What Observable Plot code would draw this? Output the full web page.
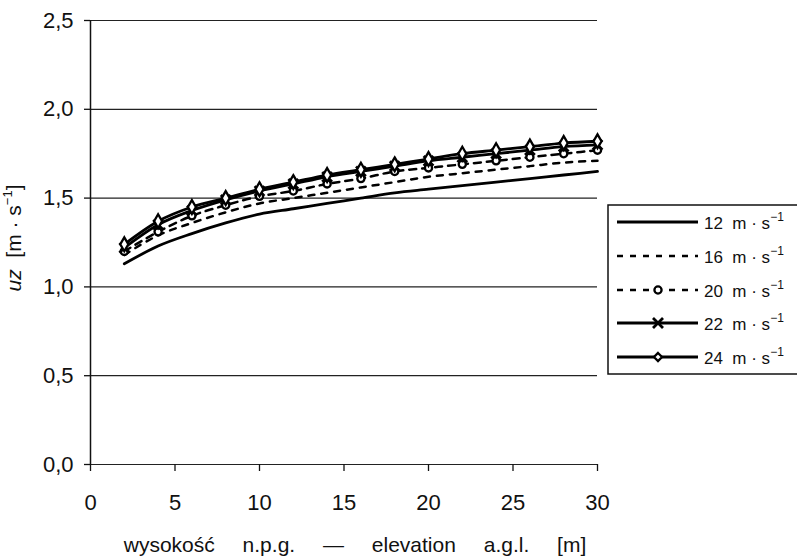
<!DOCTYPE html>
<html><head><meta charset="utf-8">
<script src="https://cdn.jsdelivr.net/npm/d3@7"></script>
<script src="https://cdn.jsdelivr.net/npm/@observablehq/plot@0.6"></script>
<style>
body{margin:0;background:#fff;}
#chart{position:relative;width:797px;height:558px;}
</style>
</head><body><div id="chart"></div>
<script>
const heights = [2,4,6,8,10,12,14,16,18,20,22,24,26,28,30];
const s12 = [1.13,1.23,1.30,1.36,1.41,1.44,1.47,1.50,1.53,1.55,1.57,1.59,1.61,1.63,1.65];
const s16 = [1.18,1.29,1.36,1.42,1.47,1.50,1.53,1.56,1.59,1.62,1.64,1.66,1.68,1.70,1.71];
const s20 = [1.20,1.31,1.40,1.46,1.51,1.54,1.58,1.61,1.65,1.67,1.69,1.71,1.73,1.75,1.77];
const s22 = [1.22,1.35,1.43,1.49,1.54,1.58,1.62,1.65,1.68,1.71,1.73,1.75,1.77,1.79,1.80];
const s24 = [1.24,1.37,1.45,1.50,1.55,1.59,1.63,1.66,1.69,1.72,1.75,1.77,1.79,1.81,1.82];
const seriesNames = ["12","16","20","22","24"];
const xTicks = [0,5,10,15,20,25,30];
const yTicks = [0,0.5,1,1.5,2,2.5];

const styles = {
  "12": {dash:null, width:2.8, symbol:null},
  "16": {dash:"6,7", width:2.5, symbol:null},
  "20": {dash:"7,6", width:2.5, symbol:"circle"},
  "22": {dash:null, width:2.8, symbol:"times"},
  "24": {dash:null, width:2.8, symbol:"diamond"}
};
const allSeries = {"12":s12,"16":s16,"20":s20,"22":s22,"24":s24};
const rows = s => heights.map((h,i)=>({h, v: allSeries[s][i], s}));

const marks = [
  Plot.ruleY(yTicks, {x1:0, x2:30, stroke:"#222", strokeWidth:1.2}),
  Plot.ruleX([0], {y1:0, y2:2.5, stroke:"#111", strokeWidth:1.5}),
  Plot.axisY(yTicks, {tickSize:6, tickPadding:11, tickFormat: d=>d.toFixed(1).replace(".",","), label:null, stroke:"#111", strokeWidth:1.3}),
  Plot.axisX(xTicks, {tickSize:7, tickPadding:23, label:null, stroke:"#111", strokeWidth:1.3})
];
for (const s of seriesNames) {
  const st = styles[s];
  marks.push(Plot.line(rows(s), {x:"h", y:"v", stroke:"#000", strokeWidth:st.width, strokeDasharray:st.dash, curve:"monotone-x"}));
}
for (const s of seriesNames) {
  const st = styles[s];
  if (!st.symbol) continue;
  if (st.symbol === "times") marks.push(Plot.dot(rows(s), {x:"h", y:"v", symbol:"times", r:4.5, stroke:"#000", strokeWidth:2.8}));
  else marks.push(Plot.dot(rows(s), {x:"h", y:"v", symbol:st.symbol, r:st.symbol==="circle"?3.6:4.2, stroke:"#000", fill:"#fff", strokeWidth:2.3}));
}

const chart = Plot.plot({
  width:797, height:558,
  marginLeft:90, marginRight:200, marginTop:20, marginBottom:94,
  style:{fontFamily:"'Liberation Sans', Arial, sans-serif", fontSize:"22px", color:"#111", background:"#fff"},
  x:{domain:[0,30]},
  y:{domain:[0,2.5]},
  marks
});
document.getElementById("chart").appendChild(chart);

const svg = d3.select(chart);
// y axis label
const yl = svg.append("text").attr("transform","translate(21,238) rotate(-90)")
  .style("text-anchor","middle").style("font-size","21px").attr("fill","#111").style("white-space","pre");
yl.append("tspan").style("font-style","italic").text("uz");
yl.append("tspan").text("  [m · s");
yl.append("tspan").style("font-size","13px").attr("dy",-9).text("−1");
yl.append("tspan").attr("dy",9).text("]");
// x axis label
svg.append("text").attr("x",355).attr("y",552).style("text-anchor","middle").style("font-size","21px").attr("fill","#111")
  .style("word-spacing","22px").text("wysokość n.p.g. — elevation a.g.l. [m]");

// legend
const lg = svg.append("g");
lg.append("rect").attr("x",608).attr("y",205).attr("width",195).attr("height",169).attr("fill","#fff").attr("stroke","#111").attr("stroke-width",1.5);
const ly = [222,256,290,323,357];
seriesNames.forEach((s,i)=>{
  const st = styles[s], y = ly[i];
  const ln = lg.append("line").attr("x1",617).attr("x2",698).attr("y1",y).attr("y2",y).attr("stroke","#000").attr("stroke-width",st.width);
  if (st.dash) ln.attr("stroke-dasharray", "6,7");
  if (st.symbol==="circle") lg.append("circle").attr("cx",658).attr("cy",y).attr("r",3.6).attr("fill","#fff").attr("stroke","#000").attr("stroke-width",2.3);
  if (st.symbol==="times") lg.append("path").attr("d",`M${653},${y-5}L${663},${y+5}M${653},${y+5}L${663},${y-5}`).attr("stroke","#000").attr("stroke-width",2.8);
  if (st.symbol==="diamond") lg.append("path").attr("d",`M658,${y-4}L662,${y}L658,${y+4}L654,${y}Z`).attr("fill","#fff").attr("stroke","#000").attr("stroke-width",2.3);
  const t = lg.append("text").attr("x",704).attr("y",y+7).style("text-anchor","start").style("font-size","17px").attr("fill","#111").style("white-space","pre");
  t.append("tspan").text(s + "  m · s");
  t.append("tspan").style("font-size","12px").attr("dy",-8).text("−1");
});
</script></body></html>
